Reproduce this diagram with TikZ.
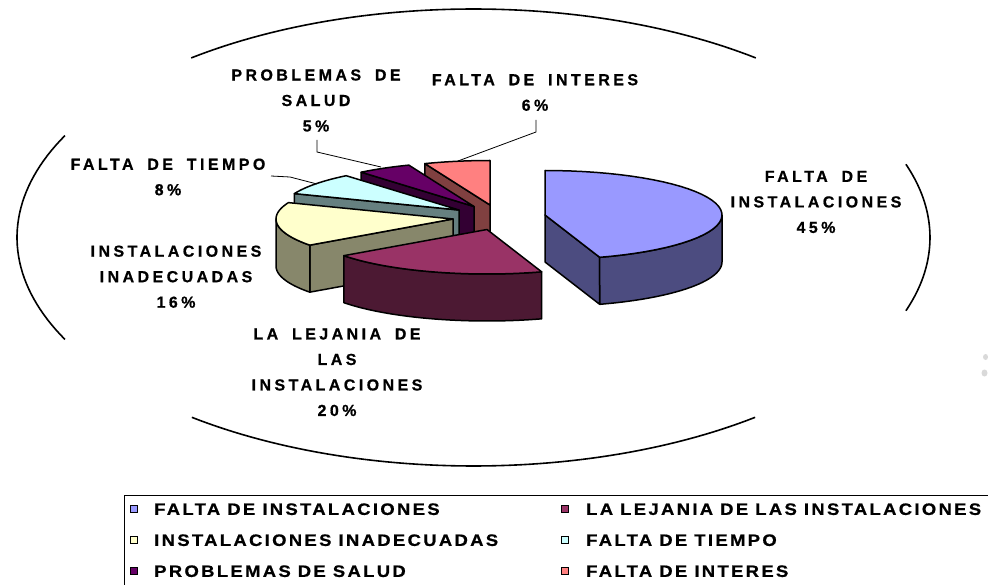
\documentclass[tikz,border=0pt]{standalone}
\usepackage{fontspec}
\setmainfont{Liberation Sans}
\newfontfamily\labfont[LetterSpace=21.5,WordSpace=1.75,FakeBold=0.7]{Liberation Sans Bold}
\newfontfamily\legfont[LetterSpace=14,WordSpace=0.95,FakeStretch=1.12,FakeBold=0.7]{Liberation Sans Bold}
\definecolor{blueT}{HTML}{9999FF}
\definecolor{blueS}{HTML}{4C4C80}
\definecolor{marT}{HTML}{993366}
\definecolor{marS}{HTML}{4C1933}
\definecolor{yelT}{HTML}{FFFFCC}
\definecolor{yelS}{HTML}{87876B}
\definecolor{cyaT}{HTML}{CCFFFF}
\definecolor{cyaS}{HTML}{668080}
\definecolor{purT}{HTML}{660066}
\definecolor{purS}{HTML}{330033}
\definecolor{salT}{HTML}{FF8080}
\definecolor{salS}{HTML}{804040}
\def\RA{177}\def\RB{44.5}\def\TH{47}
\newcommand\topface[5]{\filldraw[pieface,fill=#5] (#1,#2) -- plot[domain=0:1,samples=40] ({#1+\RA*cos((#3)+((#4)-(#3))*\x)},{#2-\RB*sin((#3)+((#4)-(#3))*\x)}) -- cycle;}
\newcommand\outerface[5]{\filldraw[pieface,fill=#5] plot[domain=0:1,samples=30] ({#1+\RA*cos((#3)+((#4)-(#3))*\x)},{#2-\RB*sin((#3)+((#4)-(#3))*\x)}) -- plot[domain=0:1,samples=30] ({#1+\RA*cos((#4)+((#3)-(#4))*\x)},{#2+\TH-\RB*sin((#4)+((#3)-(#4))*\x)}) -- cycle;}
\newcommand\radface[4]{\filldraw[pieface,fill=#4] (#1,#2) -- ({#1+\RA*cos(#3)},{#2-\RB*sin(#3)}) -- ++(0,\TH) -- (#1,{#2+\TH}) -- cycle;}
\tikzset{
  pieface/.style={draw=black, line width=1.5pt, line join=round},
  ring/.style={draw=black, line width=1.6pt},
  leader/.style={draw=black, line width=0.8pt},
  lab/.style={font=\labfont\fontsize{16}{25.5}\selectfont, align=center, inner sep=0pt},
  legtxt/.style={font=\legfont\fontsize{16.5}{19}\selectfont, anchor=west, inner sep=0pt, text height=11.8pt, text depth=0pt},
  legkey/.style={draw=black, line width=0.9pt, minimum size=7.5pt, inner sep=0pt}
}
\begin{document}
\begin{tikzpicture}[x=1pt,y=-1pt]
\useasboundingbox (0,0) rectangle (988,585);
\fill[white] (0,0) rectangle (988,585);
% surrounding ellipse, drawn in four arcs
\draw[ring] plot[domain=51.8:128.2,samples=60] ({473.5+456.5*cos(\x)},{237.5-228.5*sin(\x)});
\draw[ring] plot[domain=-18.7:18.7,samples=40] ({473.5+456.5*cos(\x)},{237.5-228.5*sin(\x)});
\draw[ring] plot[domain=153.5:206.5,samples=40] ({473.5+456.5*cos(\x)},{237.5-228.5*sin(\x)});
\draw[ring] plot[domain=231.9:308.1,samples=60] ({473.5+456.5*cos(\x)},{237.5-228.5*sin(\x)});
% pie slices, back to front
\radface{490}{205}{111.6}{salS}
\topface{490}{205}{90}{111.6}{salT}
\radface{474}{206.5}{129.6}{purS}
\topface{474}{206.5}{111.6}{129.6}{purT}
\radface{459}{210}{158.4}{cyaS}
\topface{459}{210}{129.6}{158.4}{cyaT}
\radface{453}{219}{216}{yelS}
\outerface{453}{219}{180}{216}{yelS}
\topface{453}{219}{158.4}{216}{yelT}
\radface{545}{215}{-72}{blueS}
\outerface{545}{215}{-72}{0}{blueS}
\topface{545}{215}{-72}{90}{blueT}
\outerface{487}{229.5}{216}{288}{marS}
\topface{487}{229.5}{216}{288}{marT}
% labels
\node[lab] (L45) at (816,202) {FALTA DE\\INSTALACIONES\\45\%};
\node[lab] (L20) at (337,372.3) {LA LEJANIA DE\\LAS\\INSTALACIONES\\20\%};
\node[lab] (L16) at (176,276.7) {INSTALACIONES\\INADECUADAS\\16\%};
\node[lab] (L8) at (168,177) {FALTA DE TIEMPO\\8\%};
\node[lab] (L5) at (316,100.5) {PROBLEMAS DE\\SALUD\\5\%};
\node[lab] (L6) at (535,92.5) {FALTA DE INTERES\\6\%};
% leader lines
\coordinate (a5) at (317,140); \coordinate (b5) at (317,152); \coordinate (c5) at (381,167);
\coordinate (a6) at (536,120); \coordinate (b6) at (536,132); \coordinate (c6) at (458,161);
\coordinate (a8) at (271,176); \coordinate (b8) at (290,177); \coordinate (c8) at (317,184);
\draw[leader] (a5) -- (b5) -- (c5);
\draw[leader] (a6) -- (b6) -- (c6);
\draw[leader] (a8) -- (b8) -- (c8);
% legend
\begin{scope}
\clip (0,0) rectangle (988,585);
\draw[black, line width=1pt] (124,495.5) rectangle (1000,600);
\end{scope}
\node[legkey, fill=blueT] (k1) at (134,509) {};
\node[legtxt] (t1) at (154,509) {FALTA DE INSTALACIONES};
\node[legkey, fill=marT] (k2) at (565,509) {};
\node[legtxt] (t2) at (586,509) {LA LEJANIA DE LAS INSTALACIONES};
\node[legkey, fill=yelT] (k3) at (134,540) {};
\node[legtxt] (t3) at (154,540) {INSTALACIONES INADECUADAS};
\node[legkey, fill=cyaT] (k4) at (565,540) {};
\node[legtxt] (t4) at (586,540) {FALTA DE TIEMPO};
\node[legkey, fill=purT] (k5) at (134,571) {};
\node[legtxt] (t5) at (154,571) {PROBLEMAS DE SALUD};
\node[legkey, fill=salT] (k6) at (565,571) {};
\node[legtxt] (t6) at (586,571) {FALTA DE INTERES};
% faint grey marks at right edge
\fill[gray!30] (985.5,357) ellipse (2.5 and 3);
\fill[gray!30] (984.5,373) ellipse (3 and 3.5);
\end{tikzpicture}
\end{document}
